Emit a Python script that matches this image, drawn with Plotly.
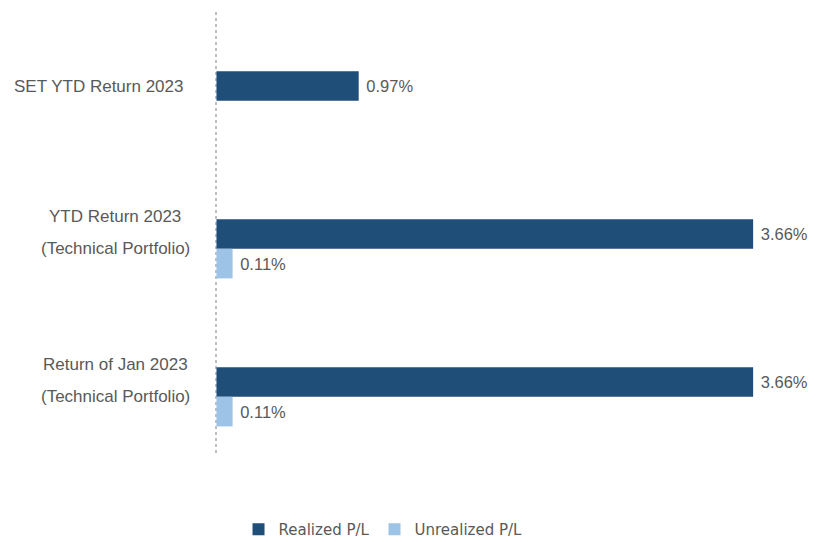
import plotly.graph_objects as go

categories = ["SET YTD Return 2023",
              "YTD Return 2023<br>(Technical Portfolio)",
              "Return of Jan 2023<br>(Technical Portfolio)"]
realized = [0.97, 3.66, 3.66]
unrealized = [None, 0.11, 0.11]
series_names = ["Realized P/L", "Unrealized P/L"]

DARK = "#1F4E79"
LIGHT = "#9DC3E6"
TXT = "#595959"
FONT = "Liberation Sans"

fig = go.Figure()
fig.add_trace(go.Bar(
    y=categories, x=realized, orientation="h", name=series_names[0],
    marker=dict(color=DARK, line=dict(width=0)),
    offset=-0.1, width=0.2,
    texttemplate=" %{x:.2f}%", textposition="outside", cliponaxis=False,
    textfont=dict(family=FONT, size=16.5, color=TXT),
))
fig.add_trace(go.Bar(
    y=categories, x=unrealized, orientation="h", name=series_names[1],
    marker=dict(color=LIGHT, line=dict(width=0)),
    offset=0.1, width=0.2,
    texttemplate=" %{x:.2f}%", textposition="outside", cliponaxis=False,
    textfont=dict(family=FONT, size=16.5, color=TXT),
))

annotations = []
for i, c in enumerate(categories):
    lines = c.split("<br>")
    if len(lines) == 1:
        annotations.append(dict(
            x=0, xref="paper", y=c, yref="y", text=lines[0], showarrow=False,
            xanchor="right", yanchor="middle", xshift=-30,
            font=dict(family=FONT, size=17, color=TXT)))
    else:
        for j, ln in enumerate(lines):
            annotations.append(dict(
                x=0, xref="paper", y=c, yref="y", text=ln, showarrow=False,
                xanchor="center", yanchor="middle", xshift=-100,
                yshift=18 if j == 0 else -14,
                font=dict(family=FONT, size=17, color=TXT)))

fig.update_layout(
    width=821, height=542,
    margin=dict(l=207, r=26, t=4, b=91),
    paper_bgcolor="white", plot_bgcolor="white",
    barmode="overlay",
    showlegend=True,
    legend=dict(orientation="h", x=0.04, xanchor="left", y=-0.1655, yanchor="middle",
                font=dict(family="DejaVu Sans", size=15, color=TXT),
                itemwidth=30, tracegroupgap=0),
    xaxis=dict(range=[-0.01, 4.0], tickvals=[0], showticklabels=False,
               showgrid=True, gridcolor="#BFBFBF", griddash="dot", gridwidth=1.5,
               zeroline=False, showline=False),
    yaxis=dict(type="category", categoryorder="array", categoryarray=categories,
               range=[2.5, -0.5], showticklabels=False, showgrid=False,
               zeroline=False, showline=False),
    annotations=annotations,
)

fig.write_html("out.html")
